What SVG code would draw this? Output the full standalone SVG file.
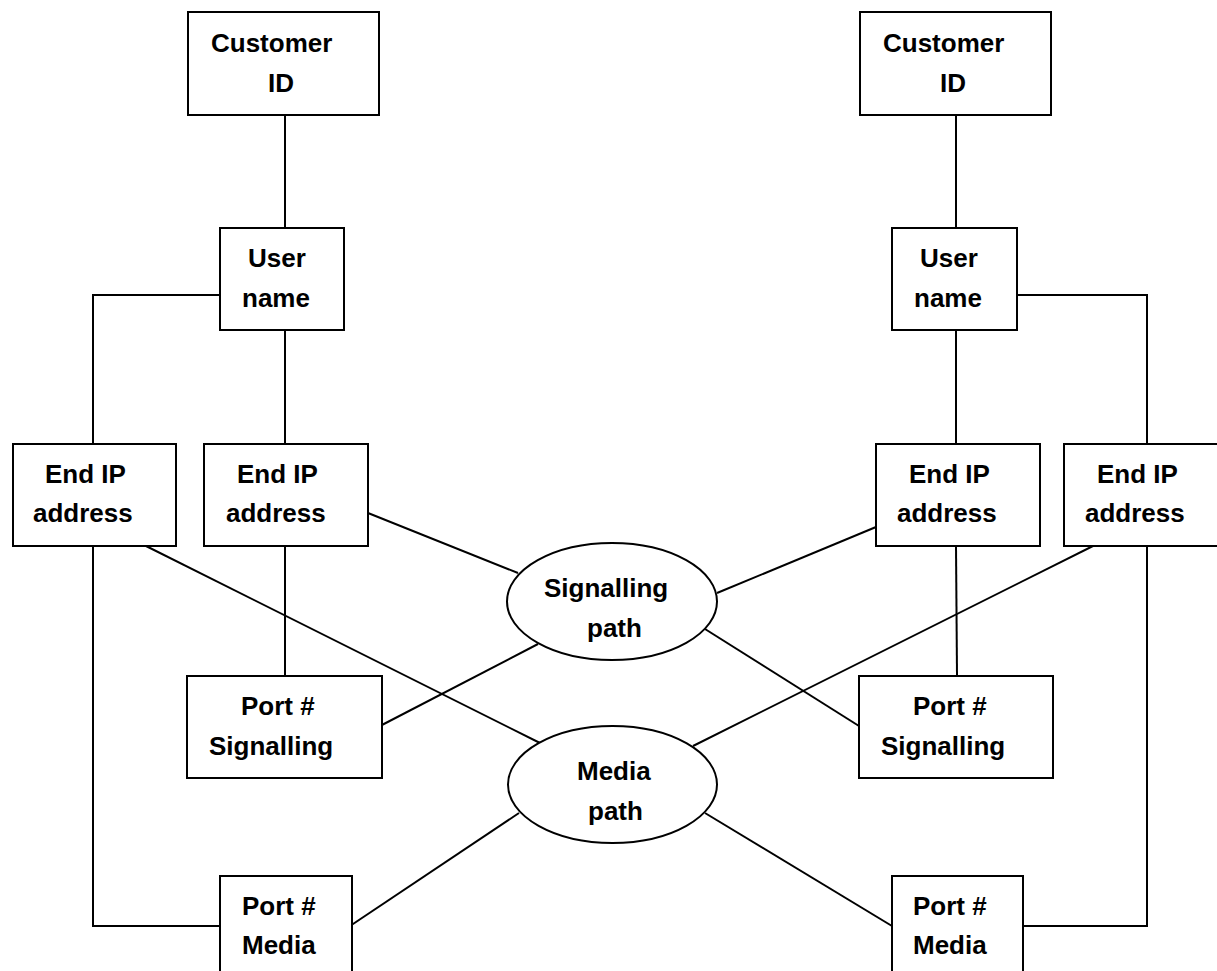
<svg xmlns="http://www.w3.org/2000/svg" width="1217" height="971" viewBox="0 0 1217 971">
  <style>
    .box { fill: #ffffff; stroke: #000000; stroke-width: 2; }
    .link { fill: none; stroke: #000000; stroke-width: 2; }
    .label { font-family: "Liberation Sans", Arial, sans-serif; font-weight: bold; font-size: 26px; fill: #000000; }
  </style>
  <rect width="1217" height="971" fill="#ffffff"/>

  <!-- connectors -->
  <g id="connectors" class="link">
    <!-- left tree -->
    <line x1="285" y1="115" x2="285" y2="228"/>
    <polyline points="220,295 93,295 93,444"/>
    <line x1="285" y1="330" x2="285" y2="444"/>
    <line x1="285" y1="546" x2="285" y2="676"/>
    <polyline points="93,546 93,926 220,926"/>
    <!-- right tree -->
    <line x1="956" y1="115" x2="956" y2="228"/>
    <polyline points="1017,295 1147,295 1147,444"/>
    <line x1="956" y1="330" x2="956" y2="444"/>
    <line x1="956" y1="546" x2="957" y2="676"/>
    <polyline points="1147,546 1147,926 1023,926"/>
    <!-- signalling path links -->
    <line x1="368" y1="513" x2="518" y2="573"/>
    <line x1="380" y1="726" x2="538" y2="644"/>
    <line x1="717" y1="593" x2="876" y2="527"/>
    <line x1="705" y1="629" x2="859" y2="726"/>
    <!-- media path links -->
    <line x1="140" y1="543" x2="540" y2="743"/>
    <line x1="693" y1="746" x2="1099" y2="543"/>
    <line x1="519" y1="813" x2="350" y2="926"/>
    <line x1="705" y1="813" x2="892" y2="926"/>
  </g>

  <!-- left column -->
  <g id="customer-id-left">
    <rect class="box" x="188" y="12" width="191" height="103"/>
    <text class="label" x="211" y="52">Customer</text>
    <text class="label" x="268" y="92">ID</text>
  </g>
  <g id="user-name-left">
    <rect class="box" x="220" y="228" width="124" height="102"/>
    <text class="label" x="248" y="267">User</text>
    <text class="label" x="242" y="307">name</text>
  </g>
  <g id="end-ip-left-outer">
    <rect class="box" x="13" y="444" width="163" height="102"/>
    <text class="label" x="45" y="483">End IP</text>
    <text class="label" x="33" y="522">address</text>
  </g>
  <g id="end-ip-left-inner">
    <rect class="box" x="204" y="444" width="164" height="102"/>
    <text class="label" x="237" y="483">End IP</text>
    <text class="label" x="226" y="522">address</text>
  </g>
  <g id="port-signalling-left">
    <rect class="box" x="187" y="676" width="195" height="102"/>
    <text class="label" x="241" y="715">Port #</text>
    <text class="label" x="209" y="755">Signalling</text>
  </g>
  <g id="port-media-left">
    <rect class="box" x="220" y="876" width="132" height="130"/>
    <text class="label" x="242" y="915">Port #</text>
    <text class="label" x="242" y="954">Media</text>
  </g>

  <!-- right column -->
  <g id="customer-id-right">
    <rect class="box" x="860" y="12" width="191" height="103"/>
    <text class="label" x="883" y="52">Customer</text>
    <text class="label" x="940" y="92">ID</text>
  </g>
  <g id="user-name-right">
    <rect class="box" x="892" y="228" width="125" height="102"/>
    <text class="label" x="920" y="267">User</text>
    <text class="label" x="914" y="307">name</text>
  </g>
  <g id="end-ip-right-inner">
    <rect class="box" x="876" y="444" width="164" height="102"/>
    <text class="label" x="909" y="483">End IP</text>
    <text class="label" x="897" y="522">address</text>
  </g>
  <g id="end-ip-right-outer">
    <rect class="box" x="1064" y="444" width="170" height="102"/>
    <text class="label" x="1097" y="483">End IP</text>
    <text class="label" x="1085" y="522">address</text>
  </g>
  <g id="port-signalling-right">
    <rect class="box" x="859" y="676" width="194" height="102"/>
    <text class="label" x="913" y="715">Port #</text>
    <text class="label" x="881" y="755">Signalling</text>
  </g>
  <g id="port-media-right">
    <rect class="box" x="892" y="876" width="131" height="130"/>
    <text class="label" x="913" y="915">Port #</text>
    <text class="label" x="913" y="954">Media</text>
  </g>

  <!-- paths -->
  <g id="signalling-path">
    <ellipse class="box" cx="612" cy="601.5" rx="105" ry="58.5"/>
    <text class="label" x="544" y="597">Signalling</text>
    <text class="label" x="587" y="637">path</text>
  </g>
  <g id="media-path">
    <ellipse class="box" cx="612.5" cy="784.5" rx="104.5" ry="58.5"/>
    <text class="label" x="577" y="780">Media</text>
    <text class="label" x="588" y="820">path</text>
  </g>
</svg>
